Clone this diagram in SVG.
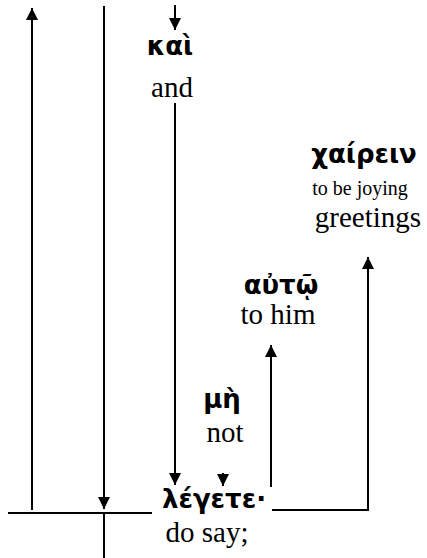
<svg xmlns="http://www.w3.org/2000/svg" width="427" height="558" viewBox="0 0 427 558">
<style>
.gr{font-family:"DejaVu Sans","Noto Sans",sans-serif;font-weight:bold;font-size:26px;fill:#000;text-anchor:middle}
.en{font-family:"Liberation Serif","Times New Roman",serif;font-size:29px;fill:#000;text-anchor:middle}
.sm{font-family:"Liberation Serif","Times New Roman",serif;font-size:20px;fill:#000;text-anchor:middle}
.ln{stroke:#000;stroke-width:2;fill:none}
</style>
<defs>
<marker id="ah" markerUnits="userSpaceOnUse" markerWidth="12" markerHeight="12" viewBox="0 0 12 12" refX="12" refY="6" orient="auto">
<path d="M0,0 L12,6 L0,12 Z" fill="#000"/>
</marker>
</defs>
<g id="connectors">
<line class="ln" x1="32" y1="510" x2="32" y2="8" marker-end="url(#ah)"/>
<line class="ln" x1="104" y1="6" x2="104" y2="509" marker-end="url(#ah)"/>
<line class="ln" x1="104" y1="513" x2="104" y2="558"/>
<line class="ln" x1="8" y1="513" x2="152" y2="513"/>
<line class="ln" x1="175" y1="5" x2="175" y2="30" marker-end="url(#ah)"/>
<line class="ln" x1="175" y1="103" x2="175" y2="485" marker-end="url(#ah)"/>
<line class="ln" x1="223" y1="473" x2="223" y2="486" marker-end="url(#ah)"/>
<line class="ln" x1="271" y1="487" x2="271" y2="345" marker-end="url(#ah)"/>
<polyline class="ln" points="272,510 368,510 368,257" marker-end="url(#ah)"/>
</g>
<g id="kai">
<text class="gr" x="170" y="55">καὶ</text>
<text class="en" x="172" y="97">and</text>
</g>
<g id="chairein">
<text class="gr" x="364" y="163">χαίρειν</text>
<text class="sm" x="360" y="195">to be joying</text>
<text class="en" x="368" y="227">greetings</text>
</g>
<g id="auto">
<text class="gr" x="281" y="294">αὐτῷ</text>
<text class="en" x="278" y="324">to him</text>
</g>
<g id="me">
<text class="gr" x="222" y="408">μὴ</text>
<text class="en" x="225" y="442">not</text>
</g>
<g id="legete">
<text class="gr" x="214" y="508">λέγετε·</text>
<text class="en" x="207" y="542">do say;</text>
</g>
</svg>
